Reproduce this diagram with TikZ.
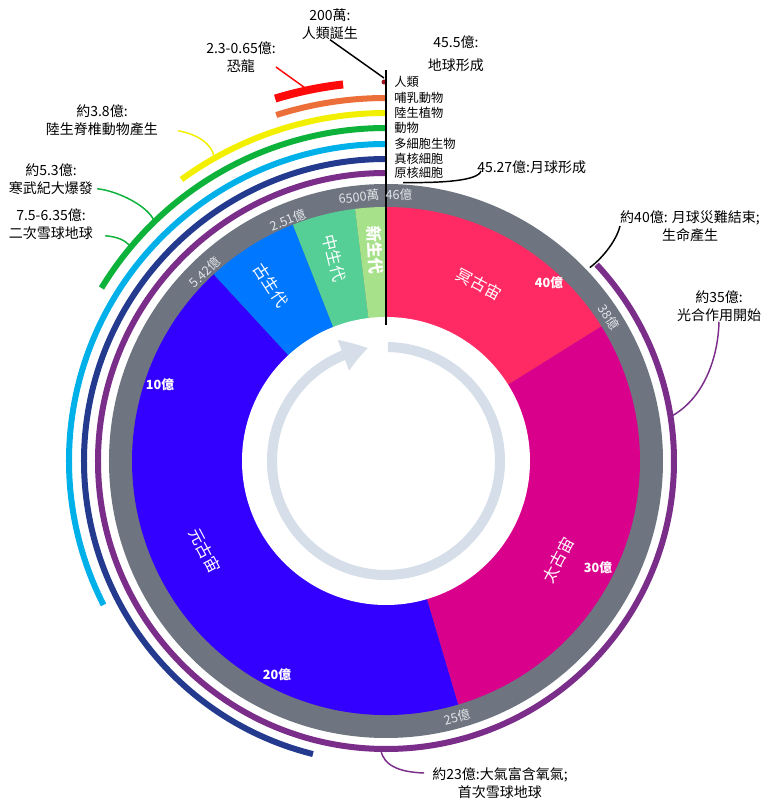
\documentclass[tikz,border=0pt]{standalone}
\usepackage{fontspec}
\setmainfont{Noto Sans CJK TC}
\usetikzlibrary{arrows.meta,bending}
\definecolor{hadean}{HTML}{FF2A63}
\definecolor{archean}{HTML}{D9008C}
\definecolor{proter}{HTML}{3300FF}
\definecolor{paleo}{HTML}{0077FF}
\definecolor{meso}{HTML}{55CF95}
\definecolor{ceno}{HTML}{A7E28B}
\definecolor{ring}{HTML}{6E7580}
\definecolor{ringtext}{HTML}{E2E4E8}
\definecolor{prok}{HTML}{7B2D8A}
\definecolor{euk}{HTML}{233A8E}
\definecolor{multi}{HTML}{00B1E9}
\definecolor{anim}{HTML}{0DB23A}
\definecolor{plant}{HTML}{F2F000}
\definecolor{mamm}{HTML}{EC6E39}
\definecolor{dino}{HTML}{FF0A0A}
\definecolor{hum}{HTML}{A3141C}
\definecolor{clock}{HTML}{D6DEE9}
\tikzset{lifearc/.style={line width=4.5pt}, lead/.style={line width=1.1pt},
  note/.style={font=\fontsize{10.5}{13.5}\selectfont, align=center, inner sep=0pt},
  arclbl/.style={font=\fontsize{9.2}{11}\selectfont, anchor=west, inner sep=0pt},
  ringlbl/.style={font=\fontsize{9.5}{11}\selectfont, text=ringtext, inner sep=0pt},
  agelbl/.style={font=\bfseries\fontsize{9.5}{11}\selectfont, text=white, inner sep=0pt},
  eralbl/.style={font=\fontsize{12}{14}\selectfont, text=white, inner sep=0pt}}

\begin{document}
\begin{tikzpicture}[x=0.75pt, y=0.75pt]
  \fill[white] (-386,-346) rectangle (391,461);
  \useasboundingbox (-386,-346) rectangle (391,461);
  \fill[ring] (0,0) circle (277);
  \foreach \a/\b/\c in {90/32/hadean, 32/-73.5/archean, -73.5/-227.3/proter, 132.7/111.5/paleo, 111.5/97/meso, 97/90/ceno}
    \fill[\c] (0,0) -- (\a:254) arc (\a:\b:254) -- cycle;
  \fill[white] (0,0) circle (144);
  \draw[clock, line width=7.5pt, -{Triangle[length=19.5pt, width=23pt, bend]}] (89:114) arc (89:-261:114);
  \foreach \r/\e/\c in {288/403/prok, 302/256/euk, 317/207/multi, 333/148.7/anim, 348/126/plant, 363/107.6/mamm}
    \draw[lifearc, \c] (90:\r) arc (90:\e:\r);
  \draw[lifearc, dino, line width=6pt] (96.5:379) arc (96.5:107:379);
  \fill[hum] (90.3:379) circle (2.5);

  \node[note] (tHuman) at (-56,437) {200萬:\\人類誕生};
  \node[note] (tEarth) at (70,407) {45.5億:\\[3.5pt]地球形成};
  \node[note] (tDino) at (-145,404) {2.3-0.65億:\\恐龍};
  \node[note] (tLand) at (-284,341) {約3.8億:\\陸生脊椎動物產生};
  \node[note] (tCamb) at (-335,282) {約5.3億:\\寒武紀大爆發};
  \node[note] (tSnow) at (-335,237) {7.5-6.35億:\\二次雪球地球};
  \node[note] (tLife) at (304,235) {約40億: 月球災難結束;\\生命產生};
  \node[note] (tPhoto) at (333,155) {約35億:\\光合作用開始};
  \node[note] (tOxy) at (114,-322) {約23億:大氣富含氧氣;\\首次雪球地球};
  \node[note, anchor=west] (tMoon) at (91,294) {45.27億:月球形成};

  \coordinate (pHum) at (-2,383);
  \coordinate (pDino) at (102:380);
  \coordinate (pLand) at (119.5:349);
  \coordinate (pCamb) at (134:334);
  \coordinate (pSnow) at (140:334);
  \coordinate (pLife) at (43.5:281);
  \coordinate (pPhoto) at (9:290);
  \coordinate (pOxy) at (-91:290);
  \coordinate (pMoon) at (86.5:279);

  \draw[lead] (tHuman.south) -- (pHum);
  \draw[lead, dino] ([shift={(0,-10)}]tDino.east) -- (pDino);
  \draw[lead, plant] ([shift={(20,5)}]tLand.south east) .. controls (-190,327) and (-174,318) .. (pLand);
  \draw[lead, anim] ([shift={(4,6)}]tCamb.south east) .. controls (-268,270) and (-238,255) .. (pCamb);
  \draw[lead, anim] ([shift={(12,4)}]tSnow.south east) .. controls (-268,224) and (-261,221) .. (pSnow);
  \draw[lead] (tLife.west) .. controls (231,222) and (218,204) .. (pLife);
  \draw[lead, prok] (tPhoto.south) .. controls (332,100) and (316,62) .. (pPhoto);
  \draw[lead, prok] (pOxy) .. controls (-2,-303) and (10,-311) .. ([shift={(-8,10)}]tOxy.west);
  \draw[lead] (pMoon) .. controls (55,278) and (92,280) .. ([shift={(4,-4)}]tMoon.west);
  \draw[line width=1.8pt] (0,391) -- (0,136);

  \foreach \r/\t in {379/人類, 363/哺乳動物, 348/陸生植物, 333/動物, 317/多細胞生物, 302/真核細胞, 288/原核細胞}
    \node[arclbl] (l\r) at (8,\r) {\t};

  \node[ringlbl] (r46) at (13,266) {46億};
  \node[ringlbl, rotate=6] (r065) at (-27,264) {6500萬};
  \node[ringlbl, rotate=22] (r251) at (-98,241) {2.51億};
  \node[ringlbl, rotate=44] (r542) at (-181,189) {5.42億};
  \node[ringlbl, rotate=-57] (r38) at (223,144) {38億};
  \node[ringlbl, rotate=15.5] (r25) at (71,-256) {25億};

  \node[agelbl] (a40) at (163,178) {40億};
  \node[agelbl] (a30) at (212,-107) {30億};
  \node[agelbl] (a20) at (-109,-214) {20億};
  \node[agelbl] (a10) at (-226,76) {10億};

  \node[eralbl, rotate=-28] (eHad) at (93,177) {冥古宙};
  \node[eralbl, rotate=62] (eArc) at (172,-99) {太古宙};
  \node[eralbl, rotate=-62] (ePro) at (-181,-90) {元古宙};
  \node[eralbl, rotate=-57] (ePal) at (-115,176) {古生代};
  \node[eralbl, rotate=-76] (eMes) at (-52,203) {中生代};
  \node[eralbl, rotate=-87, font=\bfseries\fontsize{12}{14}\selectfont] (eCen) at (-11,211) {新生代};
\end{tikzpicture}
\end{document}
